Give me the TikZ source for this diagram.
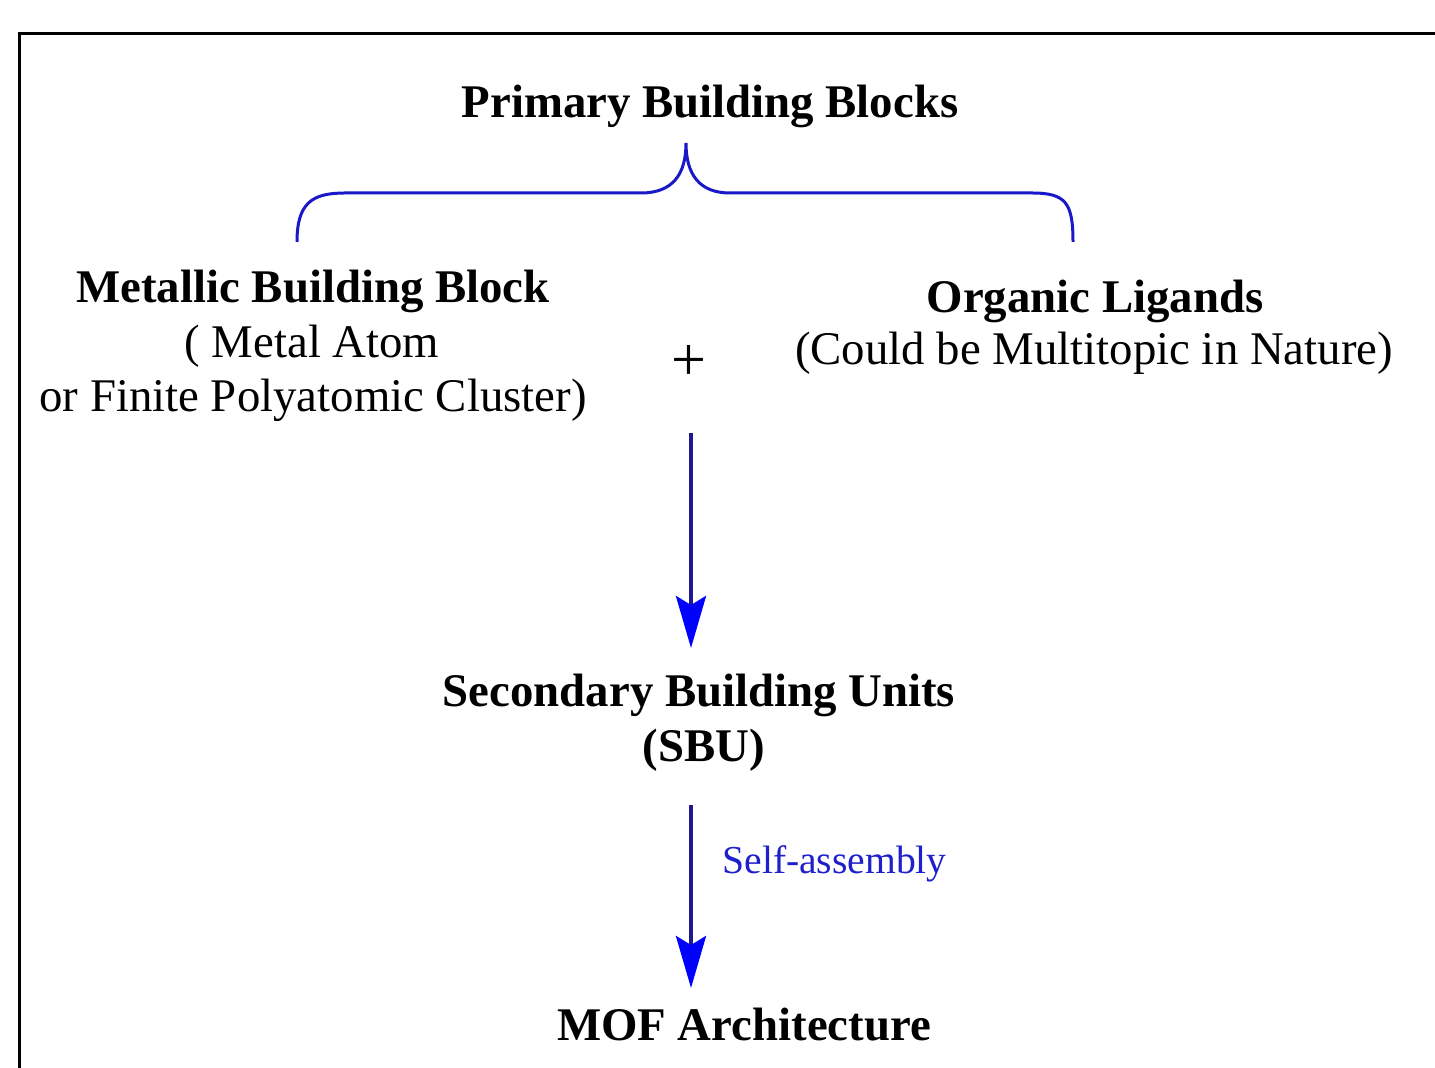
\documentclass[tikz,border=0pt]{standalone}
\usepackage{fontspec}
\setmainfont{Liberation Serif}
\usetikzlibrary{arrows.meta}
\newlength{\du}
\setlength{\du}{0.5pt}
\definecolor{framecolor}{rgb}{0.000000, 0.000000, 0.000000}
\definecolor{bracecolor}{rgb}{0.100000, 0.100000, 0.780000}
\definecolor{shaftcolor}{rgb}{0.120000, 0.100000, 0.560000}
\definecolor{tipcolor}{rgb}{0.000000, 0.000000, 1.000000}
\definecolor{labelcolor}{rgb}{0.120000, 0.120000, 0.800000}
\tikzset{
  boldtext/.style={inner sep=0pt, anchor=base, font=\fontsize{23.4}{28}\selectfont\bfseries},
  plaintext/.style={inner sep=0pt, anchor=base, font=\fontsize{23.4}{28}\selectfont},
  steplabel/.style={inner sep=0pt, anchor=base west, text=labelcolor, font=\fontsize{19.8}{24}\selectfont},
  flowarrow/.style={draw=shaftcolor, line width=4\du,
    -{Stealth[length=26pt, width=15pt, inset=4.5pt, tipcolor]}},
}

\begin{document}
\begin{tikzpicture}
\pgftransformxscale{1.000000}
\pgftransformyscale{-1.000000}
\useasboundingbox (0\du,0\du) rectangle (1435\du,1068\du);
% frame
\draw[framecolor, line width=3\du] (19\du,1068\du)--(19\du,34\du)--(1435\du,34\du);
% setfont left to latex
\node[boldtext] (primary) at (710\du,118\du) {Primary Building Blocks};
% brace
\draw[bracecolor, line width=3\du] (297\du,242\du)
  .. controls (297\du,203\du) and (312\du,193\du) .. (345\du,193\du)
  -- (641\du,193\du)
  .. controls (673\du,193\du) and (686\du,174\du) .. (686\du,143\du)
  .. controls (686\du,174\du) and (699\du,193\du) .. (730\du,193\du)
  -- (1032\du,193\du)
  .. controls (1066\du,193\du) and (1073\du,203\du) .. (1073\du,242\du);
\node[boldtext] (metallic) at (313\du,303\du) {Metallic Building Block};
\node[plaintext] (metalatom) at (312\du,358\du) {( Metal Atom};
\node[plaintext] (cluster) at (313\du,412\du) {or Finite Polyatomic Cluster)};
\node[boldtext] (organic) at (1095\du,313\du) {Organic Ligands};
\node[plaintext] (multitopic) at (1094\du,365\du) {(Could be Multitopic in Nature)};
\node[plaintext, anchor=center, font=\fontsize{31}{36}\selectfont] (plus) at (689\du,363\du) {+};
\node[boldtext] (sbu) at (699\du,707\du) {Secondary Building Units};
\node[boldtext] (sbuabbr) at (704\du,762\du) {(SBU)};
\node[boldtext] (mof) at (744\du,1040\du) {MOF Architecture};
% arrows
\coordinate (combine) at (691\du,433\du);
\coordinate (combineend) at (691\du,648\du);
\coordinate (assemble) at (691\du,805\du);
\coordinate (assembleend) at (691\du,988\du);
\draw[flowarrow] (combine)--(combineend);
\draw[flowarrow] (assemble)--(assembleend);
\node[steplabel] (selfassembly) at (722\du,873\du) {Self-assembly};
\end{tikzpicture}
\end{document}
